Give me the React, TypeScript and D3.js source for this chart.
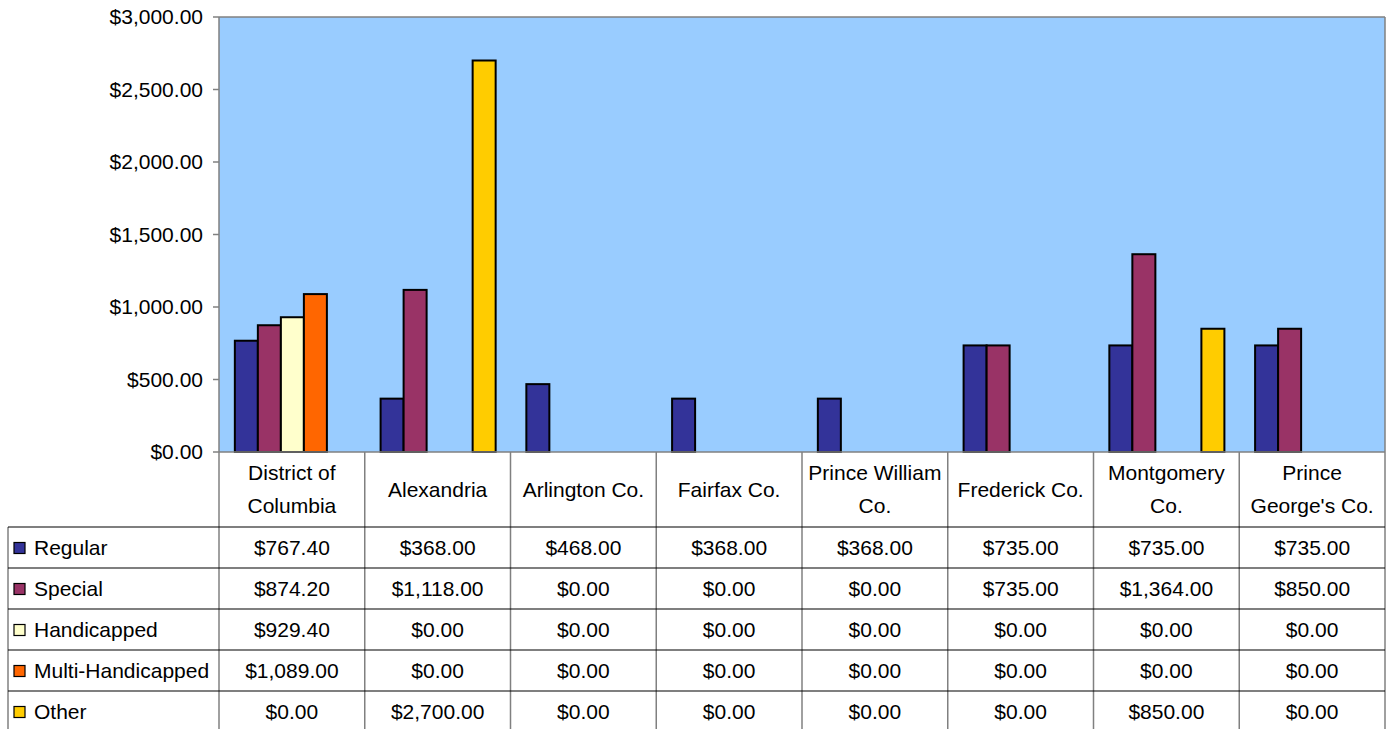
import React from "react";
import * as d3 from "d3";

const categories = [
  ["District of", "Columbia"],
  ["Alexandria"],
  ["Arlington Co."],
  ["Fairfax Co."],
  ["Prince William", "Co."],
  ["Frederick Co."],
  ["Montgomery", "Co."],
  ["Prince", "George's Co."],
];
const seriesNames = ["Regular", "Special", "Handicapped", "Multi-Handicapped", "Other"];
const seriesColors = ["#333399", "#993366", "#FFFFCC", "#FF6600", "#FFCC00"];
const regular = [767.4, 368, 468, 368, 368, 735, 735, 735];
const special = [874.2, 1118, 0, 0, 0, 735, 1364, 850];
const handicapped = [929.4, 0, 0, 0, 0, 0, 0, 0];
const multiHandicapped = [1089, 0, 0, 0, 0, 0, 0, 0];
const other = [0, 2700, 0, 0, 0, 0, 850, 0];
const yTicks = [0, 500, 1000, 1500, 2000, 2500, 3000];

const series = [regular, special, handicapped, multiHandicapped, other];

const W = 1388, H = 729;
const left = 219, right = 1385, top = 17, bottom = 452;
const headerBottom = 527, rowH = 41, tableLeft = 8;
const FONT = "'Liberation Sans', Arial, sans-serif";
const FS = 21;

const money = (v: number) => "$" + d3.format(",.2f")(v);

export default function App() {
  const x0 = d3.scaleBand<number>().domain(d3.range(categories.length)).range([left, right]).padding(0);
  const bw = x0.bandwidth();
  const x1 = d3.scaleBand<number>().domain(d3.range(series.length)).range([0, bw]).paddingInner(0).paddingOuter(0.667);
  const y = d3.scaleLinear().domain([0, 3000]).range([bottom, top]);

  return (
    <svg width={W} height={H} style={{ position: "absolute", left: 0, top: 0, background: "#fff" }} fontFamily={FONT}>
      <rect x={left} y={top} width={right - left} height={bottom - top} fill="#99CCFF" />
      <line x1={left} x2={right} y1={top} y2={top} stroke="#808080" strokeWidth={1.5} />
      <line x1={right} x2={right} y1={top} y2={bottom} stroke="#808080" strokeWidth={1.5} />
      {series.map((vals, si) =>
        vals.map((v, ci) =>
          v > 0 ? (
            <rect
              key={`${si}-${ci}`}
              x={x0(ci)! + x1(si)! + 0.5}
              y={y(v)}
              width={x1.bandwidth()}
              height={bottom - y(v)}
              fill={seriesColors[si]}
              stroke="#000"
              strokeWidth={2}
            />
          ) : null
        )
      )}
      {/* y axis */}
      <line x1={left} x2={left} y1={top} y2={bottom} stroke="#808080" strokeWidth={1.5} />
      {yTicks.map((t) => (
        <g key={t}>
          <line x1={left - 6} x2={left} y1={y(t)} y2={y(t)} stroke="#808080" strokeWidth={1.5} />
          <text x={203} y={y(t)} dy="0.35em" textAnchor="end" fontSize={FS} fill="#000">
            {money(t)}
          </text>
        </g>
      ))}
      {/* table lines */}
      <line x1={left} x2={right} y1={bottom} y2={bottom} stroke="#808080" strokeWidth={1.5} />
      {d3.range(categories.length + 1).map((i) => {
        const xx = i < categories.length ? x0(i)! : right;
        return <line key={i} x1={xx} x2={xx} y1={bottom} y2={H} stroke="#808080" strokeWidth={1.5} />;
      })}
      <line x1={tableLeft} x2={tableLeft} y1={headerBottom} y2={H} stroke="#808080" strokeWidth={1.5} />
      {d3.range(series.length).map((i) => (
        <line key={i} x1={tableLeft} x2={right} y1={headerBottom + i * rowH} y2={headerBottom + i * rowH} stroke="#000" strokeWidth={1.2} />
      ))}
      {/* header labels */}
      {categories.map((lines, ci) => {
        const cx = x0(ci)! + bw / 2;
        const mid = (bottom + headerBottom) / 2;
        return (
          <text key={ci} x={cx} textAnchor="middle" fontSize={FS} fill="#000">
            {lines.map((l, li) => (
              <tspan key={li} x={cx} y={mid + (li - (lines.length - 1) / 2) * 33} dy="0.35em">
                {l}
              </tspan>
            ))}
          </text>
        );
      })}
      {/* rows */}
      {series.map((vals, si) => {
        const cy = headerBottom + si * rowH + rowH / 2;
        return (
          <g key={si}>
            <rect x={14} y={cy - 5} width={11} height={11} fill={seriesColors[si]} stroke="#000" strokeWidth={1.2} />
            <text x={34} y={cy} dy="0.35em" fontSize={FS} fill="#000">
              {seriesNames[si]}
            </text>
            {vals.map((v, ci) => (
              <text key={ci} x={x0(ci)! + bw / 2} y={cy} dy="0.35em" textAnchor="middle" fontSize={FS} fill="#000">
                {money(v)}
              </text>
            ))}
          </g>
        );
      })}
    </svg>
  );
}
